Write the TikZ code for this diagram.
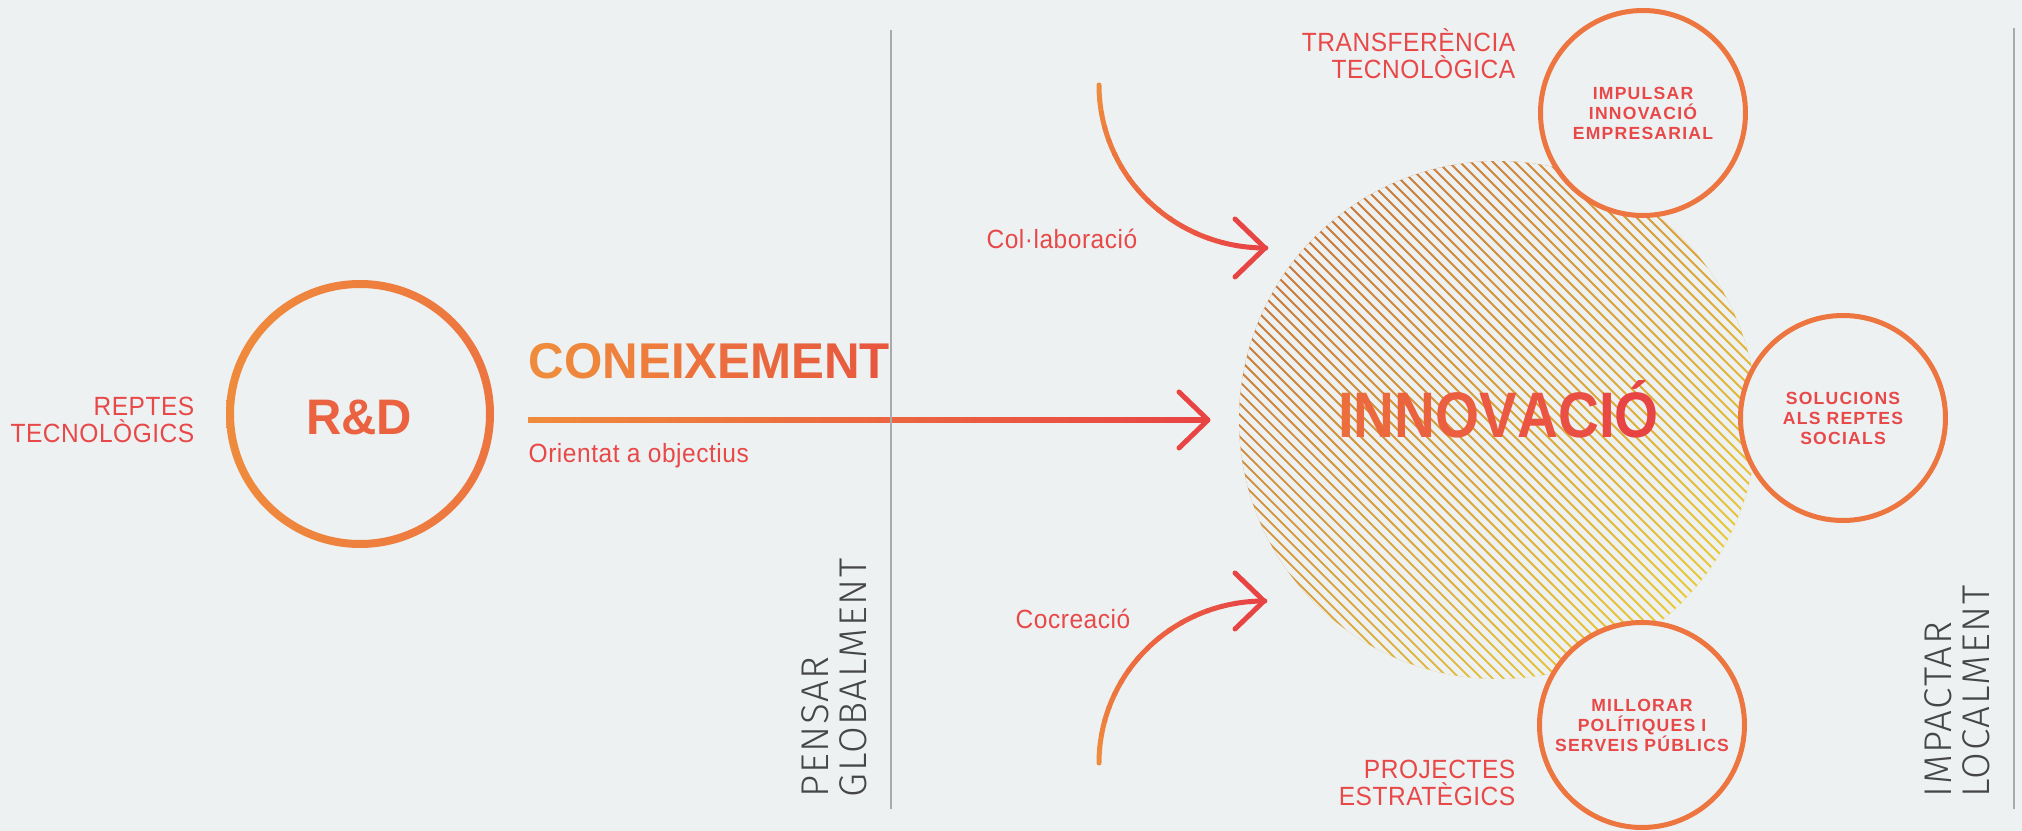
\documentclass[tikz,border=0pt]{standalone}
\usepackage{fontspec}
\usepackage{tikz}
\usetikzlibrary{positioning,calc}

\setmainfont{Liberation Sans}
\newfontfamily\labelfont{Liberation Sans}[FakeStretch=0.93,LetterSpace=2]
\newfontfamily\headfont{Liberation Sans}[FakeStretch=0.98]
\newfontfamily\innofont{Liberation Sans}[FakeStretch=0.88]
\newfontfamily\circfont{Liberation Sans}[LetterSpace=7]
\newfontfamily\thinfont{Fira Sans Light}[LetterSpace=4]

\definecolor{bgc}{RGB}{237,241,242}
\definecolor{korange}{RGB}{239,139,60}
\definecolor{kred}{RGB}{232,68,68}
\definecolor{kgrad}{RGB}{232,88,63}
\definecolor{igrada}{RGB}{236,110,60}
\definecolor{corange}{RGB}{237,117,64}
\definecolor{rdcol}{RGB}{235,98,64}
\definecolor{labred}{RGB}{232,72,72}
\definecolor{hatcha}{RGB}{202,122,60}
\definecolor{hatchb}{RGB}{233,202,58}
\definecolor{gline}{RGB}{168,171,174}
\definecolor{gtext}{RGB}{70,70,70}

% letters coloured from #1 to #2, #3 = number of letters - 1
\newcommand{\gradword}[4]{%
  \foreach \ch [count=\i from 0, evaluate=\i as \p using \i*100/#3] in {#4}{\textcolor{#2!\p!#1}{\ch}}}

\begin{document}
\begin{tikzpicture}[
    labeltxt/.style={font=\labelfont\fontsize{7.5}{7.7}\selectfont, text=labred, inner sep=0pt},
    aim/.style={circle, draw=corange, line width=0.5mm, fill=bgc, minimum size=20.5mm,
      inner sep=0pt, align=center, text=labred, font=\circfont\bfseries\fontsize{5}{5.7}\selectfont},
    vtext/.style={rotate=90, anchor=south west, align=left, inner sep=0pt, text=gtext,
      font=\thinfont\fontsize{11}{10.9}\selectfont},
    sep/.style={draw=gline, line width=0.15mm},
    chev/.style={draw=kred, line width=0.5mm, line cap=round, line join=round}
  ]
  \fill[bgc] (0,0) rectangle (20.22,8.31);
  \useasboundingbox (0,0) rectangle (20.22,8.31);

  % R&D
  \coordinate (rdc) at (3.60,4.17);
  \shade[left color=korange, right color=corange, even odd rule] (rdc) circle (1.34) (rdc) circle (1.26);
  \node[inner sep=0pt, text=rdcol, font=\headfont\bfseries\fontsize{14.2}{15}\selectfont] (rd) at (3.59,4.135) {R\&D};
  \node[labeltxt, align=right, anchor=north east] (reptes) at (1.95,4.35) {REPTES\\TECNOLÒGICS};

  % coneixement
  \node[anchor=base west, inner sep=0pt, font=\headfont\bfseries\fontsize{14.3}{15}\selectfont] (coneix) at (5.28,4.52)
    {\gradword{korange}{kgrad}{10}{C,O,N,E,I,X,E,M,E,N,T}};
  \node[labeltxt, anchor=base west] (orient) at (5.28,3.68) {Orientat a objectius};
  \coordinate (kstart) at (5.28,4.11);
  \coordinate (kend) at (12.08,4.11);
  \shade[left color=korange, right color=kred] ($(kstart)+(0,0.025)$) rectangle ($(kend)+(-0.02,-0.025)$);
  \draw[chev] ($(kend)+(-0.29,0.28)$) -- (kend) -- ($(kend)+(-0.29,-0.28)$);

  % innovacio
  \coordinate (innoc) at (14.98,4.11);
  \begin{scope}
    \clip (innoc) circle (2.59);
    \shade[top color=hatcha, bottom color=hatchb, shading angle=45] (innoc) circle (2.6);
    \foreach \k in {-34,...,34}
      \draw[bgc, line width=0.56mm] ($(innoc)+(\k*0.055+0.0275,\k*0.055+0.0275)+(-2.8,2.8)$) -- ++(5.6,-5.6);
  \end{scope}
  \node[anchor=base, inner sep=0pt, font=\innofont\bfseries\fontsize{18.3}{19}\selectfont] (inno) at (14.985,3.93)
    {\gradword{igrada}{kred}{8}{I,N,N,O,V,A,C,I,Ó}};

  % objectius
  \node[aim] (impulsar) at (16.43,7.18) {IMPULSAR\\INNOVACIÓ\\EMPRESARIAL};
  \node[aim] (solucions) at (18.43,4.13) {SOLUCIONS\\ALS REPTES\\SOCIALS};
  \node[aim] (millorar) at (16.42,1.06) {MILLORAR\\POLÍTIQUES I\\SERVEIS PÚBLICS};
  \node[labeltxt, align=right, anchor=north east] (transf) at (15.16,8.03) {TRANSFERÈNCIA\\TECNOLÒGICA};
  \node[labeltxt, align=right, anchor=north east] (projectes) at (15.16,0.72) {PROJECTES\\ESTRATÈGICS};

  % col.laboracio / cocreacio
  \node[labeltxt, anchor=base east] (colab) at (11.38,5.82) {Col·laboració};
  \node[labeltxt, anchor=base east] (cocrea) at (11.31,2.02) {Cocreació};
  \coordinate (colc) at (12.65,7.46);
  \coordinate (colend) at (12.65,5.83);
  \foreach \a [evaluate=\a as \p using \a*100/17] in {0,...,17}
    \draw[draw=kred!\p!korange, line width=0.5mm, line cap=round]
      ($(colc)+({180+5*\a}:1.66 and 1.63)$) arc[start angle=180+5*\a, delta angle=5.3, x radius=1.66, y radius=1.63];
  \draw[chev] ($(colend)+(-0.3,0.29)$) -- (colend) -- ($(colend)+(-0.3,-0.29)$);
  \coordinate (cocc) at (12.64,0.68);
  \coordinate (cocend) at (12.64,2.30);
  \foreach \a [evaluate=\a as \p using \a*100/17] in {0,...,17}
    \draw[draw=kred!\p!korange, line width=0.5mm, line cap=round]
      ($(cocc)+({180-5*\a}:1.65 and 1.62)$) arc[start angle=180-5*\a, delta angle=-5.3, x radius=1.65, y radius=1.62];
  \draw[chev] ($(cocend)+(-0.29,0.28)$) -- (cocend) -- ($(cocend)+(-0.29,-0.28)$);

  % separadors
  \draw[sep] (8.91,8.01) -- (8.91,0.22);
  \draw[sep] (20.14,8.03) -- (20.14,0.22);
  \node[vtext] (pensar) at (8.68,0.33) {PENSAR\\GLOBALMENT};
  \node[vtext] (impactar) at (19.91,0.33) {IMPACTAR\\LOCALMENT};
\end{tikzpicture}
\end{document}
